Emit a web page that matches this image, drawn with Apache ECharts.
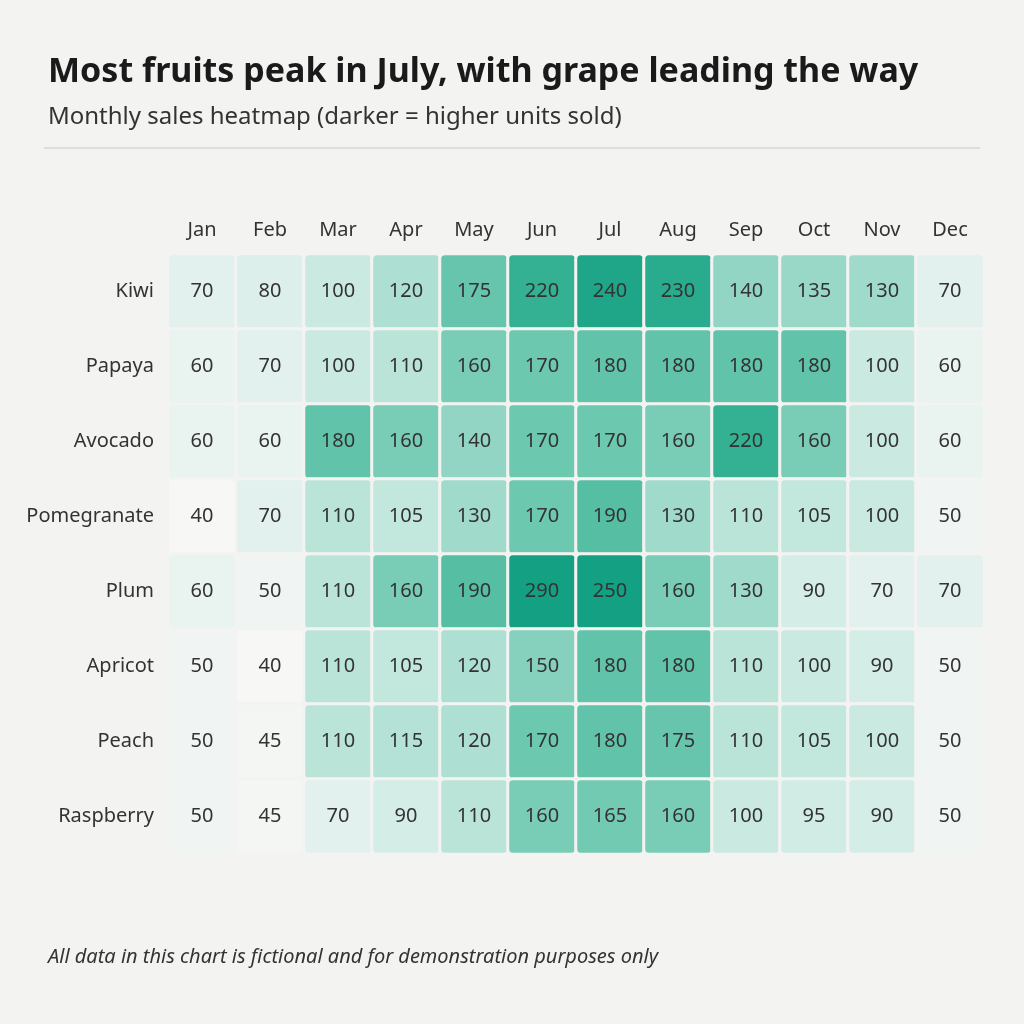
<!DOCTYPE html>
<html>
<head>
<meta charset="utf-8">
<script src="https://cdn.jsdelivr.net/npm/echarts@6/dist/echarts.min.js"></script>
<style>
  html, body { margin: 0; padding: 0; background: #f3f3f2; }
  #chart { width: 1024px; height: 1024px; }
</style>
</head>
<body>
<div id="chart"></div>
<script>
var months = ['Jan', 'Feb', 'Mar', 'Apr', 'May', 'Jun', 'Jul', 'Aug', 'Sep', 'Oct', 'Nov', 'Dec'];
var fruits = ['Kiwi', 'Papaya', 'Avocado', 'Pomegranate', 'Plum', 'Apricot', 'Peach', 'Raspberry'];

var kiwi        = [70, 80, 100, 120, 175, 220, 240, 230, 140, 135, 130, 70];
var papaya      = [60, 70, 100, 110, 160, 170, 180, 180, 180, 180, 100, 60];
var avocado     = [60, 60, 180, 160, 140, 170, 170, 160, 220, 160, 100, 60];
var pomegranate = [40, 70, 110, 105, 130, 170, 190, 130, 110, 105, 100, 50];
var plum        = [60, 50, 110, 160, 190, 290, 250, 160, 130, 90, 70, 70];
var apricot     = [50, 40, 110, 105, 120, 150, 180, 180, 110, 100, 90, 50];
var peach       = [50, 45, 110, 115, 120, 170, 180, 175, 110, 105, 100, 50];
var raspberry   = [50, 45, 70, 90, 110, 160, 165, 160, 100, 95, 90, 50];

var rows = [kiwi, papaya, avocado, pomegranate, plum, apricot, peach, raspberry];
var cells = [];
rows.forEach(function (r, y) {
  r.forEach(function (v, x) { cells.push([x, y, v]); });
});

var font = '"Noto Sans", "Open Sans", sans-serif';
var chart = echarts.init(document.getElementById('chart'));
chart.setOption({
  backgroundColor: '#f3f3f2',
  title: [{
    text: 'Most fruits peak in July, with grape leading the way',
    left: 43, top: 50,
    textStyle: { fontFamily: font, fontSize: 34, fontWeight: 'bold', color: '#1a1a1a' }
  }, {
    text: 'Monthly sales heatmap (darker = higher units sold)',
    left: 43, top: 100,
    textStyle: { fontFamily: font, fontSize: 24, fontWeight: 'normal', color: '#333' }
  }, {
    text: 'All data in this chart is fictional and for demonstration purposes only',
    left: 43, top: 942,
    textStyle: { fontFamily: font, fontSize: 20, fontStyle: 'italic', fontWeight: 'normal', color: '#333' }
  }],
  graphic: [{
    type: 'line', shape: { x1: 44, y1: 148, x2: 980, y2: 148 },
    style: { stroke: '#c8c8c8', lineWidth: 1 }
  }],
  grid: { left: 168, right: 40, top: 254, bottom: 170 },
  xAxis: {
    type: 'category', data: months, position: 'top',
    axisLine: { show: false }, axisTick: { show: false }, splitArea: { show: false },
    axisLabel: { fontFamily: font, fontSize: 20, color: '#333', margin: 14 }
  },
  yAxis: {
    type: 'category', data: fruits, inverse: true,
    axisLine: { show: false }, axisTick: { show: false },
    axisLabel: { fontFamily: font, fontSize: 20, color: '#333', margin: 14 }
  },
  visualMap: {
    show: false, min: 40, max: 250, dimension: 2,
    inRange: { color: ['#f7f7f6', '#d3ede6', '#8bd3c0', '#4cbb9e', '#14a183'] }
  },
  series: [{
    type: 'heatmap',
    data: cells,
    label: { show: true, fontFamily: font, fontSize: 20, color: '#333' },
    itemStyle: { borderColor: '#f3f3f2', borderWidth: 3, borderRadius: 5 }
  }]
});
</script>
</body>
</html>
